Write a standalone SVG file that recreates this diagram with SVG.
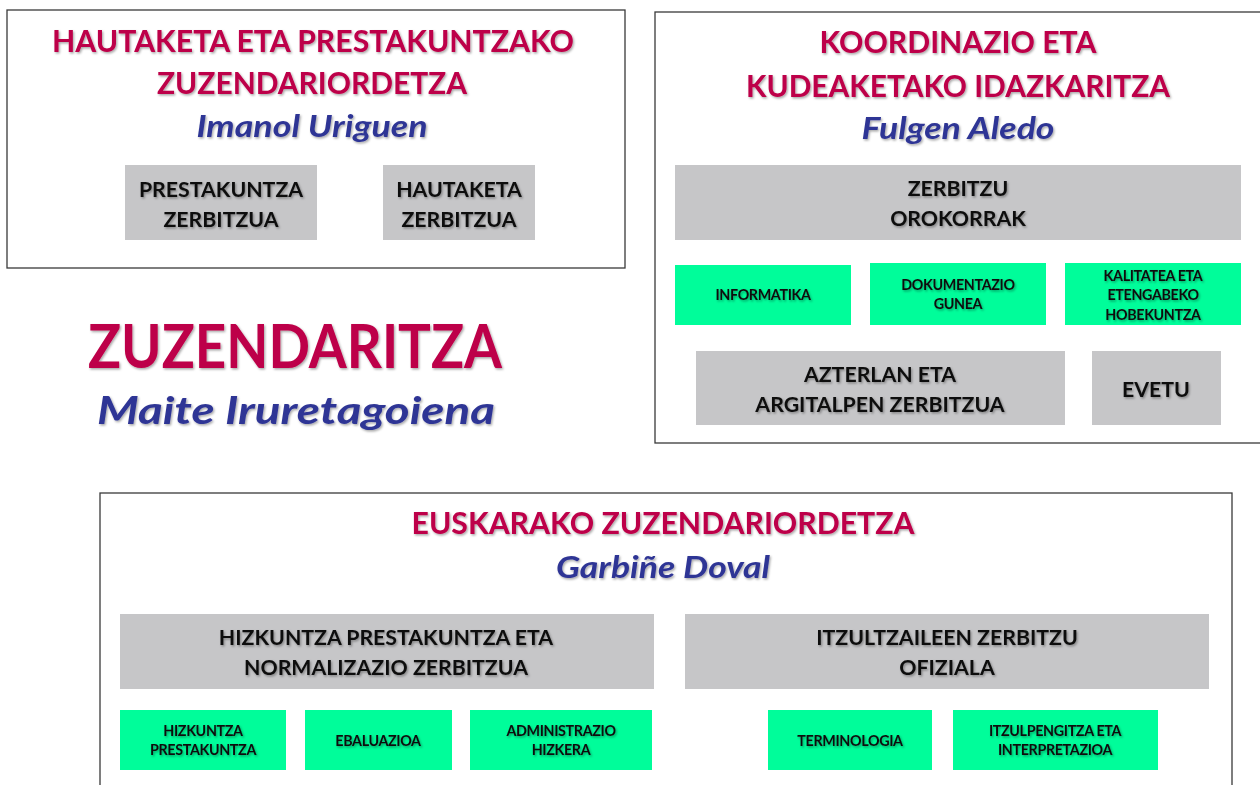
<svg xmlns="http://www.w3.org/2000/svg" width="1260" height="785" viewBox="0 0 1260 785">
<defs>
<filter id="sh" x="-5%" y="-20%" width="110%" height="150%">
<feDropShadow dx="1.2" dy="1.5" stdDeviation="0.9" flood-color="#000" flood-opacity="0.35"/>
</filter>
<style>
.frame{fill:#fff;stroke:#3a3a3a;stroke-width:1.3}
.gray{fill:#c6c6c8}
.green{fill:#00fd9a}
.t{font-family:Lato,"Open Sans","Liberation Sans",sans-serif;font-weight:bold;text-anchor:middle;filter:url(#sh)}
.title{fill:#bd0048;font-size:31px}
.name{fill:#2f3595;font-size:30px;font-style:italic}
.box{fill:#111;font-size:21.3px}
.sm{fill:#111;font-size:14.3px;letter-spacing:-0.35px}
</style>
</defs>
<rect width="1260" height="785" fill="#fff"/>

<g id="hautaketa">
<rect class="frame" x="7" y="10" width="618" height="258"/>
<text class="t title" x="313" y="52" textLength="522" lengthAdjust="spacingAndGlyphs">HAUTAKETA ETA PRESTAKUNTZAKO</text>
<text class="t title" x="312" y="94" textLength="310" lengthAdjust="spacingAndGlyphs">ZUZENDARIORDETZA</text>
<text class="t name" x="312" y="137" textLength="231" lengthAdjust="spacingAndGlyphs">Imanol Uriguen</text>
<g id="prestakuntza-zerbitzua">
<rect class="gray" x="125" y="165" width="192" height="75"/>
<text class="t box" x="221" y="197">PRESTAKUNTZA</text>
<text class="t box" x="221" y="227">ZERBITZUA</text>
</g>
<g id="hautaketa-zerbitzua">
<rect class="gray" x="383" y="165" width="152" height="75"/>
<text class="t box" x="459" y="197">HAUTAKETA</text>
<text class="t box" x="459" y="227">ZERBITZUA</text>
</g>
</g>

<g id="zuzendaritza">
<text class="t" x="295" y="368" fill="#bd0048" font-size="62" textLength="414" lengthAdjust="spacingAndGlyphs">ZUZENDARITZA</text>
<text class="t" x="296" y="424" fill="#2f3595" font-size="38" font-style="italic" textLength="398" lengthAdjust="spacingAndGlyphs">Maite Iruretagoiena</text>
</g>

<g id="koordinazio">
<rect class="frame" x="655" y="12" width="612" height="431"/>
<text class="t title" x="958" y="53" textLength="277" lengthAdjust="spacingAndGlyphs">KOORDINAZIO  ETA</text>
<text class="t title" x="958" y="97" textLength="424" lengthAdjust="spacingAndGlyphs">KUDEAKETAKO IDAZKARITZA</text>
<text class="t name" x="958" y="139" textLength="193" lengthAdjust="spacingAndGlyphs">Fulgen Aledo</text>
<g id="zerbitzu-orokorrak">
<rect class="gray" x="675" y="165" width="566" height="75"/>
<text class="t box" x="958" y="196">ZERBITZU</text>
<text class="t box" x="958" y="226">OROKORRAK</text>
</g>
<g id="informatika">
<rect class="green" x="675" y="265" width="176" height="60"/>
<text class="t sm" x="763" y="300">INFORMATIKA</text>
</g>
<g id="dokumentazio">
<rect class="green" x="870" y="263" width="176" height="62"/>
<text class="t sm" x="958" y="290">DOKUMENTAZIO</text>
<text class="t sm" x="958" y="309">GUNEA</text>
</g>
<g id="kalitatea">
<rect class="green" x="1065" y="263" width="176" height="62"/>
<text class="t sm" x="1153" y="281">KALITATEA ETA</text>
<text class="t sm" x="1153" y="300">ETENGABEKO</text>
<text class="t sm" x="1153" y="320">HOBEKUNTZA</text>
</g>
<g id="azterlan">
<rect class="gray" x="696" y="351" width="369" height="74"/>
<text class="t box" x="880" y="382">AZTERLAN ETA</text>
<text class="t box" x="880" y="412">ARGITALPEN ZERBITZUA</text>
</g>
<g id="evetu">
<rect class="gray" x="1092" y="351" width="129" height="74"/>
<text class="t box" x="1156" y="397">EVETU</text>
</g>
</g>

<g id="euskarako">
<rect class="frame" x="100" y="493" width="1132" height="300"/>
<text class="t title" x="663" y="534" textLength="503" lengthAdjust="spacingAndGlyphs">EUSKARAKO ZUZENDARIORDETZA</text>
<text class="t name" x="663" y="578" textLength="214" lengthAdjust="spacingAndGlyphs">Garbiñe Doval</text>
<g id="hizkuntza-normalizazio">
<rect class="gray" x="120" y="614" width="534" height="75"/>
<text class="t box" x="386" y="645">HIZKUNTZA PRESTAKUNTZA ETA</text>
<text class="t box" x="386" y="675">NORMALIZAZIO ZERBITZUA</text>
</g>
<g id="itzultzaileen">
<rect class="gray" x="685" y="614" width="524" height="75"/>
<text class="t box" x="947" y="645">ITZULTZAILEEN ZERBITZU</text>
<text class="t box" x="947" y="675">OFIZIALA</text>
</g>
<g id="hizkuntza-prestakuntza">
<rect class="green" x="120" y="710" width="166" height="60"/>
<text class="t sm" x="203" y="736">HIZKUNTZA</text>
<text class="t sm" x="203" y="755">PRESTAKUNTZA</text>
</g>
<g id="ebaluazioa">
<rect class="green" x="305" y="710" width="147" height="60"/>
<text class="t sm" x="378" y="746">EBALUAZIOA</text>
</g>
<g id="administrazio">
<rect class="green" x="470" y="710" width="182" height="60"/>
<text class="t sm" x="561" y="736">ADMINISTRAZIO</text>
<text class="t sm" x="561" y="755">HIZKERA</text>
</g>
<g id="terminologia">
<rect class="green" x="768" y="710" width="164" height="60"/>
<text class="t sm" x="850" y="746">TERMINOLOGIA</text>
</g>
<g id="itzulpengintza">
<rect class="green" x="953" y="710" width="205" height="60"/>
<text class="t sm" x="1055" y="736">ITZULPENGITZA ETA</text>
<text class="t sm" x="1055" y="755">INTERPRETAZIOA</text>
</g>
</g>
</svg>
